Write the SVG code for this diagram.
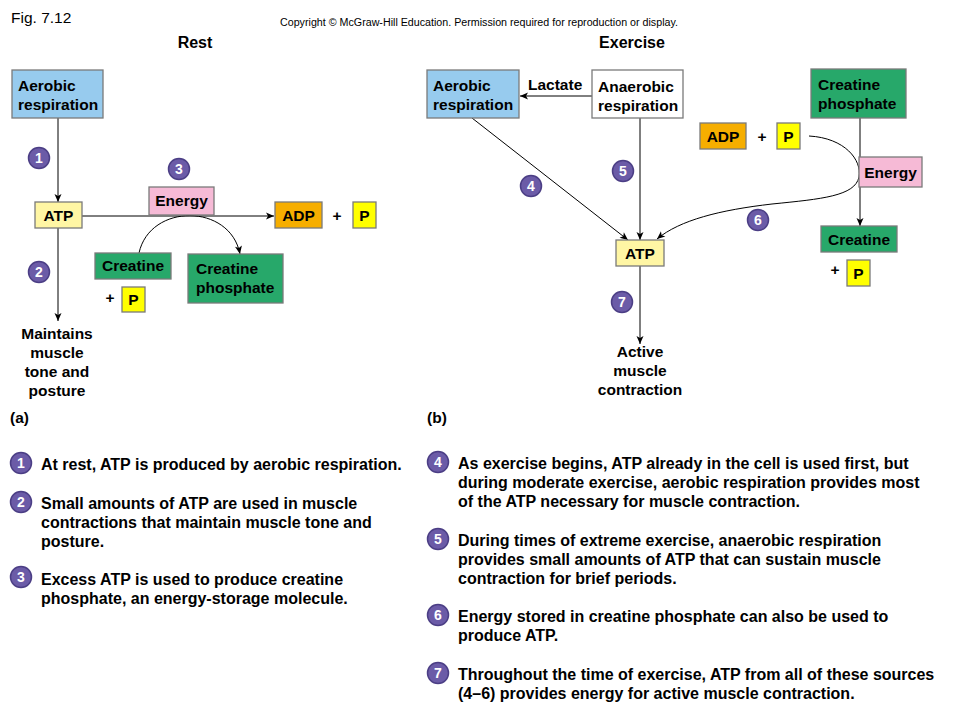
<svg xmlns="http://www.w3.org/2000/svg" width="960" height="720" viewBox="0 0 960 720">
<defs>
<marker id="ah" markerUnits="userSpaceOnUse" markerWidth="10" markerHeight="10" viewBox="0 0 10 10" refX="9" refY="5" orient="auto">
<path d="M1,1.5 L9,5 L1,8.5 L3,5 z" fill="#000"/>
</marker>
<style>
text{font-family:"Liberation Sans",Arial,sans-serif;fill:#000}
.b{font-weight:bold;font-size:15.5px}
.l{font-weight:bold;font-size:16px}
.c{text-anchor:middle}
.h{font-weight:bold;font-size:16px;text-anchor:middle}
.box{stroke:#7a7a7a;stroke-width:1.3}
.aer{fill:#97cbee}
.ana{fill:#ffffff}
.atp{fill:#fff6a4}
.adp{fill:#f6ae00}
.p{fill:#ffff00}
.en{fill:#f6bad6}
.gr{fill:#27a86a}
.num circle{fill:#6b5ba7;stroke:#4b3e85;stroke-width:1.5}
.num text{fill:#fff;font-weight:bold;font-size:14px;text-anchor:middle}
.ln{stroke:#000;stroke-width:1;fill:none;marker-end:url(#ah)}
</style>
</defs>
<rect width="960" height="720" fill="#fff"/>
<text x="11" y="23" font-size="15.5" fill="#222">Fig. 7.12</text>
<text x="280" y="26" font-size="10" fill="#333" textLength="398" lengthAdjust="spacingAndGlyphs">Copyright © McGraw-Hill Education. Permission required for reproduction or display.</text>
<text class="h" x="195" y="48">Rest</text>
<text class="h" x="632" y="48">Exercise</text>

<g id="connectors">
<line class="ln" x1="58" y1="118" x2="58" y2="202"/>
<line class="ln" x1="82" y1="216" x2="274" y2="216"/>
<line class="ln" x1="58" y1="228" x2="58" y2="321"/>
<path class="ln" d="M139 253 C150 203, 230 203, 240 254"/>
<line class="ln" x1="593" y1="96" x2="520" y2="96"/>
<line class="ln" x1="472" y1="118" x2="628" y2="240"/>
<line class="ln" x1="640" y1="118" x2="640" y2="240"/>
<line class="ln" x1="860" y1="118" x2="860" y2="226"/>
<path class="ln" d="M809 136 C845 138, 862 160, 859 177 C855 196, 822 199, 772 204 C720 210, 680 220, 657 239"/>
<line class="ln" x1="640" y1="266" x2="640" y2="344"/>
</g>

<g id="aerobic-rest"><rect class="box aer" x="12" y="70" width="91" height="48"/><text class="b" x="18" y="91">Aerobic</text><text class="b" x="18" y="110">respiration</text></g>
<g id="atp-rest"><rect class="box atp" x="35" y="202" width="47" height="26"/><text class="b c" x="58.5" y="221">ATP</text></g>
<g id="energy-rest"><rect class="box en" x="149" y="187" width="65" height="28"/><text class="b c" x="181.5" y="206">Energy</text></g>
<g id="adp-rest"><rect class="box adp" x="275" y="202" width="47" height="26"/><text class="b c" x="298.5" y="221">ADP</text></g>
<g id="plus-rest-1"><text class="b c" x="337" y="221">+</text></g>
<g id="p-rest-1"><rect class="box p" x="353" y="202" width="23" height="26"/><text class="b c" x="364.5" y="221">P</text></g>
<g id="creatine-rest"><rect class="box gr" x="95" y="253" width="76" height="26"/><text class="b c" x="133" y="271">Creatine</text></g>
<g id="cp-rest"><rect class="box gr" x="188" y="254" width="95" height="49"/><text class="b" x="196" y="274">Creatine</text><text class="b" x="196" y="293">phosphate</text></g>
<g id="plus-rest-2"><text class="b c" x="110" y="303">+</text></g>
<g id="p-rest-2"><rect class="box p" x="122" y="287" width="23" height="25"/><text class="b c" x="133.5" y="305">P</text></g>
<g id="maintains"><text class="b c" x="57" y="339">Maintains</text><text class="b c" x="57" y="358">muscle</text><text class="b c" x="57" y="377">tone and</text><text class="b c" x="57" y="396">posture</text></g>

<g id="aerobic-ex"><rect class="box aer" x="427" y="70" width="92" height="48"/><text class="b" x="433" y="91">Aerobic</text><text class="b" x="433" y="110">respiration</text></g>
<g id="lactate"><text class="b" x="528" y="90">Lactate</text></g>
<g id="anaerobic"><rect class="box ana" x="592" y="70" width="91" height="48"/><text class="b" x="598" y="92">Anaerobic</text><text class="b" x="598" y="111">respiration</text></g>
<g id="cp-ex"><rect class="box gr" x="811" y="69" width="95" height="49"/><text class="b" x="818" y="90">Creatine</text><text class="b" x="818" y="109">phosphate</text></g>
<g id="adp-ex"><rect class="box adp" x="700" y="123" width="46" height="26"/><text class="b c" x="723" y="142">ADP</text></g>
<g id="plus-ex-1"><text class="b c" x="762" y="142">+</text></g>
<g id="p-ex-1"><rect class="box p" x="777" y="123" width="23" height="26"/><text class="b c" x="788.5" y="142">P</text></g>
<g id="energy-ex"><rect class="box en" x="859" y="157" width="63" height="30"/><text class="b c" x="890.5" y="178">Energy</text></g>
<g id="creatine-ex"><rect class="box gr" x="821" y="226" width="76" height="26"/><text class="b c" x="859" y="245">Creatine</text></g>
<g id="plus-ex-2"><text class="b c" x="835" y="275">+</text></g>
<g id="p-ex-2"><rect class="box p" x="847" y="260" width="23" height="26"/><text class="b c" x="858.5" y="279">P</text></g>
<g id="atp-ex"><rect class="box atp" x="616" y="240" width="48" height="26"/><text class="b c" x="640" y="259">ATP</text></g>
<g id="active"><text class="b c" x="640" y="357">Active</text><text class="b c" x="640" y="376">muscle</text><text class="b c" x="640" y="395">contraction</text></g>

<g id="nums-diagram">
<g class="num"><circle cx="39" cy="158" r="10.5"/><text x="39" y="163">1</text></g>
<g class="num"><circle cx="179" cy="169" r="10.5"/><text x="179" y="174">3</text></g>
<g class="num"><circle cx="39" cy="272" r="10.5"/><text x="39" y="277">2</text></g>
<g class="num"><circle cx="531" cy="186" r="10.5"/><text x="531" y="191">4</text></g>
<g class="num"><circle cx="623" cy="171" r="10.5"/><text x="623" y="176">5</text></g>
<g class="num"><circle cx="758" cy="220" r="10.5"/><text x="758" y="225">6</text></g>
<g class="num"><circle cx="622" cy="302" r="10.5"/><text x="622" y="307">7</text></g>
</g>

<text class="b" x="10" y="423">(a)</text>
<text class="b" x="427" y="423">(b)</text>

<g id="legend-a">
<g class="num"><circle cx="21" cy="463" r="10.5"/><text x="21" y="468">1</text></g>
<text class="l" x="41" y="470">At rest, ATP is produced by aerobic respiration.</text>
<g class="num"><circle cx="21" cy="502" r="10.5"/><text x="21" y="507">2</text></g>
<text class="l" x="41" y="509">Small amounts of ATP are used in muscle</text>
<text class="l" x="41" y="528">contractions that maintain muscle tone and</text>
<text class="l" x="41" y="547">posture.</text>
<g class="num"><circle cx="21" cy="577" r="10.5"/><text x="21" y="582">3</text></g>
<text class="l" x="41" y="585">Excess ATP is used to produce creatine</text>
<text class="l" x="41" y="604">phosphate, an energy-storage molecule.</text>
</g>

<g id="legend-b">
<g class="num"><circle cx="438" cy="462" r="10.5"/><text x="438" y="467">4</text></g>
<text class="l" x="458" y="469">As exercise begins, ATP already in the cell is used first, but</text>
<text class="l" x="458" y="488">during moderate exercise, aerobic respiration provides most</text>
<text class="l" x="458" y="507">of the ATP necessary for muscle contraction.</text>
<g class="num"><circle cx="438" cy="539" r="10.5"/><text x="438" y="544">5</text></g>
<text class="l" x="458" y="546">During times of extreme exercise, anaerobic respiration</text>
<text class="l" x="458" y="565">provides small amounts of ATP that can sustain muscle</text>
<text class="l" x="458" y="584">contraction for brief periods.</text>
<g class="num"><circle cx="438" cy="615" r="10.5"/><text x="438" y="620">6</text></g>
<text class="l" x="458" y="622">Energy stored in creatine phosphate can also be used to</text>
<text class="l" x="458" y="641">produce ATP.</text>
<g class="num"><circle cx="438" cy="673" r="10.5"/><text x="438" y="678">7</text></g>
<text class="l" x="458" y="680">Throughout the time of exercise, ATP from all of these sources</text>
<text class="l" x="458" y="699">(4–6) provides energy for active muscle contraction.</text>
</g>
</svg>
